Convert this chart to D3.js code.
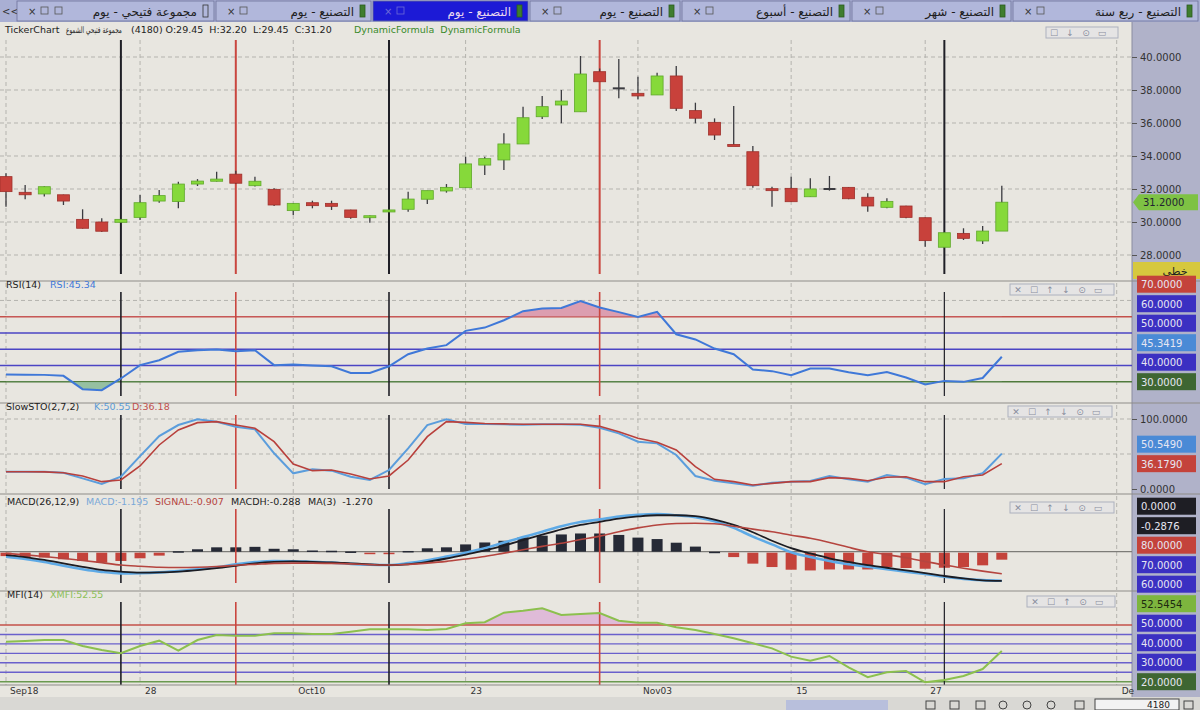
<!DOCTYPE html>
<html><head><meta charset="utf-8">
<script src="https://cdn.jsdelivr.net/npm/d3@7"></script>
<style>
body{margin:0;background:#e8e6e0;overflow:hidden}
svg{display:block;font-family:"DejaVu Sans",sans-serif}
</style></head>
<body><svg id="c" width="1200" height="710"></svg>
<script>
// ---------------- DATA ----------------
const tickIdx    = [0, 7, 15, 24, 33, 41, 48, 58];
const tickLabels = ["Sep18","28","Oct10","23","Nov03","15","27","De"];
const priceTicks = [28, 30, 32, 34, 36, 38, 40];

const openP  = [32.75,31.80,31.70,31.65,30.16,30.00,29.98,30.28,31.27,31.24,32.30,32.47,32.90,32.20,31.98,30.69,31.17,31.13,30.73,30.26,30.62,30.77,31.38,31.88,32.08,33.45,33.76,34.73,36.38,37.09,36.68,39.11,38.10,37.80,37.70,38.85,36.75,36.04,34.70,34.26,32.02,32.04,31.53,32.00,32.10,31.50,30.89,30.97,30.26,28.47,29.31,28.85,29.45];
const highP  = [32.95,32.24,32.16,31.66,30.77,30.22,30.20,31.64,31.94,32.44,32.60,33.05,33.10,32.75,32.05,31.15,31.29,31.29,30.75,30.40,30.75,31.84,31.90,32.30,33.96,33.96,35.38,36.99,37.64,38.00,40.06,39.30,39.88,38.81,39.05,39.45,37.23,36.28,37.03,34.61,32.14,32.75,32.65,32.79,32.12,31.74,31.44,30.98,30.28,29.40,29.62,29.76,32.20];
const lowP   = [30.93,31.38,31.54,31.03,29.60,29.40,29.95,30.12,31.17,30.83,32.18,32.45,32.30,32.15,30.97,30.42,30.83,30.73,30.20,29.96,30.60,30.62,31.09,31.78,32.08,32.85,33.15,34.73,36.24,35.98,36.68,38.50,37.50,37.44,37.70,36.73,35.98,34.97,34.60,32.08,30.93,31.23,31.53,31.90,31.38,30.62,30.83,30.22,28.50,28.45,28.91,28.67,29.45];
const closeP = [31.84,31.65,32.14,31.27,29.62,29.44,30.16,31.17,31.60,32.30,32.48,32.60,32.35,32.47,31.03,31.13,30.99,30.95,30.28,30.38,30.73,31.39,31.90,32.10,33.52,33.84,34.73,36.32,36.99,37.33,38.97,38.50,38.10,37.64,38.85,36.89,36.29,35.27,34.60,32.20,31.98,31.23,32.00,32.00,31.41,30.97,31.25,30.28,28.87,29.35,29.01,29.45,31.20];

const rsi = [34.4,34.3,34.2,33.6,25.4,24.8,32.0,40.2,43.2,48.4,49.4,49.8,48.8,49.4,40.2,40.6,40.0,39.5,35.4,35.4,39.5,46.9,50.4,52.5,61.3,63.3,67.8,73.4,75.0,75.4,79.7,75.7,72.8,69.9,73.0,59.2,56.0,50.4,46.9,37.5,36.5,34.0,38.1,38.1,35.8,34.0,36.0,32.6,28.3,30.5,29.9,32.3,45.3419];
const rsiLevels = [70, 60, 50, 40, 30];

const stoK = [24.7,24.7,24.5,23.3,15.2,7.1,17.6,47.0,75.7,91.4,99.5,96.2,89.0,85.2,51.0,22.4,28.1,26.2,17.6,12.9,27.1,58.1,91.4,99.5,92.9,92.9,92.4,91.9,92.4,92.4,91.9,87.5,79.5,67.6,65.2,48.6,18.6,11.9,8.1,4.8,9.0,10.5,11.4,18.6,13.8,10.5,20.0,16.2,6.7,14.3,15.2,22.4,50.549];
const stoD = [24.7,24.7,24.5,23.3,18.6,10.5,12.9,32.9,62.9,84.3,94.8,96.2,91.4,86.7,67.6,35.7,26.2,27.1,21.4,14.3,18.6,41.4,74.8,96.2,95.2,93.5,93.0,92.6,92.4,92.6,92.4,89.5,81.9,72.4,66.7,55.7,31.9,13.8,10.5,5.7,8.1,10.5,10.5,16.2,15.2,11.9,16.7,17.6,10.5,10.5,17.6,20.0,36.179];

const macdLine = [-0.21,-0.30,-0.42,-0.58,-0.72,-0.83,-0.89,-0.88,-0.85,-0.80,-0.72,-0.64,-0.52,-0.43,-0.38,-0.39,-0.42,-0.45,-0.50,-0.54,-0.55,-0.47,-0.35,-0.20,-0.04,0.14,0.38,0.60,0.82,1.05,1.22,1.33,1.45,1.52,1.55,1.50,1.42,1.25,0.98,0.62,0.30,-0.02,-0.22,-0.38,-0.52,-0.62,-0.72,-0.82,-0.92,-1.03,-1.12,-1.17,-1.195];
const signalLine = [-0.07,-0.13,-0.20,-0.28,-0.36,-0.45,-0.55,-0.60,-0.64,-0.65,-0.64,-0.61,-0.56,-0.52,-0.48,-0.47,-0.47,-0.48,-0.50,-0.53,-0.55,-0.52,-0.47,-0.40,-0.30,-0.20,-0.06,0.08,0.22,0.35,0.50,0.64,0.82,0.98,1.10,1.16,1.17,1.15,1.05,0.93,0.82,0.68,0.55,0.38,0.18,0.00,-0.12,-0.25,-0.40,-0.55,-0.68,-0.80,-0.907];
const ma3Line = [-0.14,-0.22,-0.34,-0.48,-0.62,-0.75,-0.82,-0.86,-0.85,-0.82,-0.76,-0.68,-0.58,-0.48,-0.42,-0.40,-0.42,-0.44,-0.48,-0.52,-0.55,-0.52,-0.42,-0.28,-0.12,0.05,0.25,0.48,0.70,0.92,1.10,1.23,1.36,1.45,1.50,1.50,1.46,1.32,1.10,0.80,0.45,0.15,-0.07,-0.27,-0.42,-0.55,-0.66,-0.77,-0.88,-1.00,-1.10,-1.18,-1.20];
const macdHist = [-0.14,-0.18,-0.20,-0.27,-0.34,-0.41,-0.34,-0.23,-0.12,0.02,0.10,0.18,0.18,0.20,0.12,0.10,0.05,0.04,0.01,-0.04,-0.03,0.03,0.14,0.18,0.30,0.38,0.45,0.59,0.66,0.71,0.75,0.75,0.69,0.58,0.52,0.37,0.21,0.00,-0.18,-0.45,-0.59,-0.70,-0.73,-0.69,-0.69,-0.69,-0.59,-0.63,-0.66,-0.62,-0.59,-0.52,-0.2876];
const ma3Last = -1.270;

const mfi = [62.3,63.0,64.1,64.1,57.8,53.5,50.1,57.8,63.4,52.8,64.1,69.4,68.7,68.7,71.2,71.2,70.5,70.5,72.9,75.4,75.4,75.4,74.7,75.8,81.8,82.9,93.0,95.1,97.7,90.6,91.6,92.7,84.6,82.4,82.4,77.6,74.7,70.5,65.9,60.6,55.3,46.5,42.2,47.2,35.2,24.7,29.9,31.3,19.4,21.8,26.0,33.4,52.5454];
const mfiLevels = [80, 70, 60, 50, 40, 30, 20];

const markerIdx   = [6, 12, 20, 31, 49];
const markerColor = ["#1f1f26", "#c9463f", "#1f1f26", "#c9463f", "#1f1f26"];

const tabNames = ["مجموعة فتيحي - يوم","التصنيع - يوم","التصنيع - يوم","التصنيع - يوم","التصنيع - أسبوع","التصنيع - شهر","التصنيع - ربع سنة"];

// ---------------- LAYOUT ----------------
const svg = d3.select("#c");
const AX = 1132;
const x = d3.scaleLinear().domain([0, 58]).range([6, 6 + 58 * 19.15]);
const N = closeP.length;
const idx = d3.range(N);
const fmt4 = d3.formatLocale({decimal:".", thousands:",", grouping:[3], currency:["",""], minus:"-"}).format(".4f");

const panels = {
  price: {top: 38,  bottom: 279, mTop: 40,  mBot: 274},
  rsi:   {top: 281, bottom: 403, mTop: 292, mBot: 396},
  sto:   {top: 403, bottom: 494, mTop: 415, mBot: 489},
  macd:  {top: 494, bottom: 591, mTop: 509, mBot: 583},
  mfi:   {top: 591, bottom: 686, mTop: 602, mBot: 685}
};
const yP   = d3.scaleLinear().domain([28, 40]).range([255, 57]);
const yR   = d3.scaleLinear().domain([30, 70]).range([381.7, 316.7]);
const yS   = d3.scaleLinear().domain([0, 100]).range([489, 419]);
const yM   = d3.scaleLinear().domain([0, 1]).range([551.7, 527.4]);
const yF   = d3.scaleLinear().domain([20, 80]).range([681.7, 625]);

// background
svg.append("rect").attr("width",1200).attr("height",710).attr("fill","#e8e6e0");
svg.append("rect").attr("x",AX).attr("y",22).attr("width",68).attr("height",675).attr("fill","#b0b2c9");
svg.append("line").attr("x1",AX).attr("x2",AX).attr("y1",22).attr("y2",697).attr("stroke","#8a8ca0");

// ---------------- TAB BAR ----------------
const tabBounds = [[17,216],[216,373],[373,530],[530,682],[682,852],[852,1013],[1013,1200]];
const tb = svg.append("g");
tb.append("rect").attr("width",1200).attr("height",22).attr("fill","#a9afd3");
tb.append("text").attr("x",2).attr("y",15).attr("font-size",10).attr("fill","#333").text("<<");
tabNames.forEach((name,i)=>{
  const [x0,x1] = tabBounds[i];
  const active = i===2;
  tb.append("rect").attr("x",x0).attr("y",1).attr("width",x1-x0-2).attr("height",20)
    .attr("fill", active ? "#1c1ad6" : "#b1b7db").attr("stroke","#6d7199").attr("stroke-width",0.8);
  const col = active ? "#ead8ee" : "#1e1e1e";
  tb.append("text").attr("x",x0+11).attr("y",15).attr("font-size",10).attr("fill",active?"#6e6bd8":"#333").text("×");
  tb.append("rect").attr("x",x0+24).attr("y",7).attr("width",7).attr("height",7).attr("fill","none").attr("stroke",active?"#6e6bd8":"#555").attr("stroke-width",0.8);
  if(i===0){
    tb.append("rect").attr("x",x0+38).attr("y",7).attr("width",7).attr("height",7).attr("fill","none").attr("stroke","#555").attr("stroke-width",0.8);
  }
  tb.append("text").attr("x",x1-19).attr("y",16).attr("text-anchor","end").attr("font-size",12)
    .attr("fill",col).text(name);
  tb.append("rect").attr("x",x1-13).attr("y",5).attr("width",5).attr("height",12)
    .attr("fill", i===0 ? "none" : "#3f7d2e").attr("stroke", i===0 ? "#333" : "#2c5a20").attr("stroke-width",0.8);
});

// ---------------- HEADER ----------------
const hd = svg.append("g").attr("font-size",9.5);
hd.append("text").attr("x",5).attr("y",33).attr("fill","#222").text("TickerChart");
const ar = hd.append("text").attr("x",0).attr("y",0).attr("fill","#222").attr("font-size",9)
  .text("مجموعة فتيحي الشموع");
const arW = ar.node().getComputedTextLength();
ar.attr("transform",`translate(66,33) scale(${56/arW},1)`);
hd.append("text").attr("x",131).attr("y",33).attr("fill","#222").attr("xml:space","preserve")
  .text(`(4180) O:${openP[N-1].toFixed(2)}  H:${highP[N-1].toFixed(2)}  L:${lowP[N-1].toFixed(2)}  C:${closeP[N-1].toFixed(2)}`);
hd.append("text").attr("x",354).attr("y",33).attr("fill","#3a8a2a").attr("xml:space","preserve").text("DynamicFormula  DynamicFormula");

// ---------------- GRID / SEPARATORS ----------------
const grid = svg.append("g");
Object.values(panels).forEach(p=>{
  tickIdx.forEach(t=>{
    grid.append("line").attr("x1",x(t)).attr("x2",x(t)).attr("y1",p.top+2).attr("y2",p.bottom-1)
      .attr("stroke","#b4b3ae").attr("stroke-dasharray","4,3").attr("stroke-width",1);
  });
});
priceTicks.forEach(v=>{
  grid.append("line").attr("x1",0).attr("x2",AX).attr("y1",yP(v)).attr("y2",yP(v))
    .attr("stroke","#b4b3ae").attr("stroke-dasharray","4,3");
});
[80].forEach(v=>grid.append("line").attr("x1",0).attr("x2",AX).attr("y1",yR(v)).attr("y2",yR(v)).attr("stroke","#b4b3ae").attr("stroke-dasharray","4,3"));
[100,50].forEach(v=>grid.append("line").attr("x1",0).attr("x2",AX).attr("y1",yS(v)).attr("y2",yS(v)).attr("stroke","#b4b3ae").attr("stroke-dasharray","4,3"));
[panels.rsi.top, panels.sto.top, panels.macd.top, panels.mfi.top].forEach(y=>{
  svg.append("line").attr("x1",0).attr("x2",1200).attr("y1",y).attr("y2",y).attr("stroke","#8d8c88").attr("stroke-width",1.2);
});

// ---------------- MARKERS ----------------
function markers(p, w){
  markerIdx.forEach((m,i)=>{
    svg.append("line").attr("x1",x(m)).attr("x2",x(m)).attr("y1",p.mTop).attr("y2",p.mBot)
      .attr("stroke",markerColor[i]).attr("stroke-width", i===4 && w<2 ? 1.2 : w);
  });
}

// ---------------- PRICE PANEL ----------------
markers(panels.price, 2);
const cw = 12;
const cg = svg.append("g");
idx.forEach(i=>{
  const o=openP[i], c=closeP[i], h=highP[i], l=lowP[i];
  const up = c > o, doji = Math.abs(c-o) < 0.005;
  cg.append("line").attr("x1",x(i)).attr("x2",x(i)).attr("y1",yP(h)).attr("y2",yP(l))
    .attr("stroke","#3b3b40").attr("stroke-width",1.3);
  const top = yP(Math.max(o,c)), bot = yP(Math.min(o,c));
  if(doji){
    cg.append("rect").attr("x",x(i)-cw/2).attr("y",top-1).attr("width",cw).attr("height",2).attr("fill","#3b3b40");
  } else {
    cg.append("rect").attr("x",x(i)-cw/2).attr("y",top).attr("width",cw).attr("height",Math.max(2,bot-top))
      .attr("fill", up ? "#86d93a" : "#c8413b").attr("stroke", up ? "#5fa82a" : "#9e302b").attr("stroke-width",0.8);
  }
});
// price axis
const pa = svg.append("g").attr("transform",`translate(${AX},0)`)
  .call(d3.axisRight(yP).tickValues(priceTicks).tickFormat(fmt4).tickSize(5));
pa.select(".domain").remove();
pa.selectAll("text").attr("font-size",10).attr("fill","#333").attr("font-family","DejaVu Sans");
pa.selectAll("line").attr("stroke","#555");
// last price tag
const lp = yP(closeP[N-1]);
svg.append("path").attr("d",`M${AX+1},${lp} L${AX+7},${lp-8} L1198,${lp-8} L1198,${lp+8} L${AX+7},${lp+8} Z`).attr("fill","#7ec244");
svg.append("text").attr("x",1143).attr("y",lp+4).attr("font-size",10).attr("fill","#223").text(fmt4(closeP[N-1]));
svg.append("rect").attr("x",AX+1).attr("y",262).attr("width",67).attr("height",17).attr("fill","#d6c83e");
svg.append("text").attr("x",1175).attr("y",275).attr("text-anchor","middle").attr("font-size",11).attr("fill","#222").text("خطي");

// ---------------- panel controls ----------------
function controls(x0, y0, icons){
  const g = svg.append("g").attr("opacity",0.75);
  const w = icons.length*16+8;
  g.append("rect").attr("x",x0).attr("y",y0).attr("width",w).attr("height",11).attr("fill","#e4e4e6").attr("stroke","#9aa0b4");
  icons.forEach((ic,i)=>g.append("text").attr("x",x0+8+i*16).attr("y",y0+9).attr("text-anchor","middle").attr("font-size",9).attr("fill","#6a7088").text(ic));
}
controls(1046, 27, ["☐","↓","⊙","▭"]);
controls(1010, 284, ["✕","☐","↑","↓","⊙","▭"]);
controls(1008, 406, ["✕","☐","↑","↓","⊙","▭"]);
controls(1010, 502, ["✕","☐","↑","↓","⊙","▭"]);
controls(1027, 596, ["✕","☐","↑","⊙","▭"]);

// ---------------- label boxes ----------------
function stackLabels(list, gap){
  list.sort((a,b)=>b.y-a.y);
  let prev = Infinity;
  list.forEach(l=>{ l.py = Math.min(l.y, prev-gap); prev = l.py; });
  list.forEach(l=>{
    svg.append("rect").attr("x",AX+5).attr("y",l.py-8.5).attr("width",59).attr("height",17).attr("fill",l.fill);
    svg.append("text").attr("x",AX+9).attr("y",l.py+4).attr("font-size",10).attr("fill",l.tc||"#e6e6f2").text(l.text);
  });
}

// ---------------- RSI PANEL ----------------
svg.append("text").attr("x",6).attr("y",288).attr("font-size",9.5).attr("fill","#222").text("RSI(14)");
svg.append("text").attr("x",50).attr("y",288).attr("font-size",9.5).attr("fill","#3f78d8").text("RSI:"+rsi[N-1].toFixed(2));
rsiLevels.forEach(v=>{
  svg.append("line").attr("x1",0).attr("x2",AX).attr("y1",yR(v)).attr("y2",yR(v))
    .attr("stroke", v===70 ? "#c4504a" : v===30 ? "#4f7a3c" : "#4b45c4").attr("stroke-width",1.6);
});
const defs = svg.append("defs");
defs.append("clipPath").attr("id","rsiHi").append("rect").attr("x",0).attr("y",0).attr("width",AX).attr("height",yR(70));
defs.append("clipPath").attr("id","rsiLo").append("rect").attr("x",0).attr("y",yR(30)).attr("width",AX).attr("height",40);
svg.append("path").datum(rsi).attr("clip-path","url(#rsiHi)").attr("fill","#d88ca4").attr("opacity",0.8)
  .attr("d", d3.area().x((d,i)=>x(i)).y0(yR(70)).y1(d=>yR(d)));
svg.append("path").datum(rsi).attr("clip-path","url(#rsiLo)").attr("fill","#8dbb9a").attr("opacity",0.9)
  .attr("d", d3.area().x((d,i)=>x(i)).y0(yR(30)).y1(d=>yR(d)));
markers(panels.rsi, 1.6);
svg.append("path").datum(rsi).attr("fill","none").attr("stroke","#3f78d8").attr("stroke-width",2)
  .attr("d", d3.line().x((d,i)=>x(i)).y(d=>yR(d)));
stackLabels([
  {y:yR(70), text:fmt4(70), fill:"#c4433b"},
  {y:yR(60), text:fmt4(60), fill:"#3b30c2"},
  {y:yR(50), text:fmt4(50), fill:"#3b30c2"},
  {y:yR(rsi[N-1]), text:fmt4(rsi[N-1]), fill:"#4a8ad6"},
  {y:yR(40), text:fmt4(40), fill:"#3b30c2"},
  {y:yR(30), text:fmt4(30), fill:"#3e6632"}
], 19.5);

// ---------------- STO PANEL ----------------
svg.append("text").attr("x",6).attr("y",410).attr("font-size",9.5).attr("fill","#222").text("SlowSTO(2,7,2)");
svg.append("text").attr("x",94).attr("y",410).attr("font-size",9.5).attr("fill","#5b9bd5").text("K:"+stoK[N-1].toFixed(2));
svg.append("text").attr("x",132).attr("y",410).attr("font-size",9.5).attr("fill","#c0504d").text("D:"+stoD[N-1].toFixed(2));
markers(panels.sto, 1.6);
svg.append("path").datum(stoK).attr("fill","none").attr("stroke","#5b9ddc").attr("stroke-width",2)
  .attr("d", d3.line().x((d,i)=>x(i)).y(d=>yS(d)));
svg.append("path").datum(stoD).attr("fill","none").attr("stroke","#b8403c").attr("stroke-width",1.6)
  .attr("d", d3.line().x((d,i)=>x(i)).y(d=>yS(d)));
const sa = svg.append("g").attr("transform",`translate(${AX},0)`)
  .call(d3.axisRight(yS).tickValues([0,100]).tickFormat(fmt4).tickSize(5));
sa.select(".domain").remove();
sa.selectAll("text").attr("font-size",10).attr("fill","#333").attr("font-family","DejaVu Sans");
sa.selectAll("line").attr("stroke","#555");
stackLabels([
  {y:yS(stoK[N-1]), text:fmt4(stoK[N-1]), fill:"#4a8ad6"},
  {y:yS(stoD[N-1]), text:fmt4(stoD[N-1]), fill:"#c4433b"}
], 19.5);

// ---------------- MACD PANEL ----------------
const mh = svg.append("g").attr("font-size",9.5);
mh.append("text").attr("x",7).attr("y",505).attr("fill","#222").text("MACD(26,12,9)");
mh.append("text").attr("x",86).attr("y",505).attr("fill","#7aa8d8").text("MACD:"+macdLine[N-1].toFixed(3));
mh.append("text").attr("x",155).attr("y",505).attr("fill","#b5453f").text("SIGNAL:"+signalLine[N-1].toFixed(3));
mh.append("text").attr("x",231).attr("y",505).attr("fill","#222").text("MACDH:"+macdHist[N-1].toFixed(3));
mh.append("text").attr("x",308).attr("y",505).attr("fill","#222").attr("xml:space","preserve").text("MA(3)  "+ma3Last.toFixed(3));
svg.append("line").attr("x1",0).attr("x2",AX).attr("y1",yM(0)).attr("y2",yM(0)).attr("stroke","#7d7c78").attr("stroke-width",1.2);
idx.forEach(i=>{
  const v = macdHist[i];
  svg.append("rect").attr("x",x(i)-5.5).attr("width",11)
    .attr("y", v>=0 ? yM(v) : yM(0)+1).attr("height", Math.max(1.5, Math.abs(yM(v)-yM(0))))
    .attr("fill", v>=0 ? "#262a36" : "#c4433b");
});
markers(panels.macd, 1.6);
const ml = d3.line().curve(d3.curveMonotoneX).x((d,i)=>x(i)).y(d=>yM(d));
svg.append("path").datum(macdLine).attr("fill","none").attr("stroke","#5eaae6").attr("stroke-width",2.6).attr("d",ml);
svg.append("path").datum(ma3Line).attr("fill","none").attr("stroke","#1c1c22").attr("stroke-width",1.8).attr("d",ml);
svg.append("path").datum(signalLine).attr("fill","none").attr("stroke","#b5453f").attr("stroke-width",1.6).attr("d",ml);

// ---------------- MFI PANEL ----------------
svg.append("text").attr("x",7).attr("y",598).attr("font-size",9.5).attr("fill","#222").text("MFI(14)");
svg.append("text").attr("x",50).attr("y",598).attr("font-size",9.5).attr("fill","#8cbf5a").text("XMFI:"+mfi[N-1].toFixed(2));
defs.append("clipPath").attr("id","mfiHi").append("rect").attr("x",0).attr("y",0).attr("width",AX).attr("height",yF(80));
svg.append("path").datum(mfi).attr("clip-path","url(#mfiHi)").attr("fill","#ddb3d6").attr("opacity",0.85)
  .attr("d", d3.area().x((d,i)=>x(i)).y0(yF(80)).y1(d=>yF(d)));
mfiLevels.forEach(v=>{
  svg.append("line").attr("x1",0).attr("x2",AX).attr("y1",yF(v)).attr("y2",yF(v))
    .attr("stroke", v===80 ? "#c4504a" : v===20 ? "#6a9a50" : "#6a60cc").attr("stroke-width",1.4);
});
markers(panels.mfi, 1.6);
svg.append("path").datum(mfi).attr("fill","none").attr("stroke","#8cc04e").attr("stroke-width",2)
  .attr("d", d3.line().x((d,i)=>x(i)).y(d=>yF(d)));

// MACD + MFI labels share one stack on the axis
stackLabels([
  {y:yM(0), text:fmt4(0), fill:"#1e1e24"},
  {y:yM(macdHist[N-1]), text:fmt4(macdHist[N-1]), fill:"#1e1e24"},
  {y:yF(80), text:fmt4(80), fill:"#c4433b"},
  {y:yF(70), text:fmt4(70), fill:"#3b30c2"},
  {y:yF(60), text:fmt4(60), fill:"#3b30c2"},
  {y:yF(mfi[N-1]), text:fmt4(mfi[N-1]), fill:"#7db53e", tc:"#1e2a10"},
  {y:yF(50), text:fmt4(50), fill:"#3b30c2"},
  {y:yF(40), text:fmt4(40), fill:"#3b30c2"},
  {y:yF(30), text:fmt4(30), fill:"#3b30c2"},
  {y:yF(20), text:fmt4(20), fill:"#3e6632"}
], 19.5);

// ---------------- X AXIS ----------------
svg.append("line").attr("x1",0).attr("x2",AX).attr("y1",685).attr("y2",685).attr("stroke","#8d8c88");
tickIdx.forEach((t,i)=>{
  svg.append("text").attr("x",x(t)+ (i===0?4:5)).attr("y",694).attr("font-size",9).attr("fill","#333").text(tickLabels[i]);
});
// bottom toolbar strip
svg.append("rect").attr("x",0).attr("y",697).attr("width",1200).attr("height",13).attr("fill","#d9d8d4");
svg.append("rect").attr("x",786).attr("y",700).attr("width",102).attr("height",10).attr("fill","#b8bfdc");
const bt = svg.append("g").attr("stroke","#444").attr("fill","none").attr("stroke-width",1);
[926,950,976].forEach(xx=>bt.append("rect").attr("x",xx).attr("y",701).attr("width",9).attr("height",8));
[1003,1027,1051].forEach(xx=>bt.append("circle").attr("cx",xx).attr("cy",705).attr("r",4));
bt.append("rect").attr("x",1075).attr("y",701).attr("width",9).attr("height",8);
bt.append("rect").attr("x",1095).attr("y",699).attr("width",84).attr("height",11).attr("fill","#f2f2f2");
svg.append("text").attr("x",1170).attr("y",708).attr("text-anchor","end").attr("font-size",9).attr("fill","#222").text("4180");
bt.append("rect").attr("x",1184).attr("y",701).attr("width",9).attr("height",8);
</script>
</body></html>
